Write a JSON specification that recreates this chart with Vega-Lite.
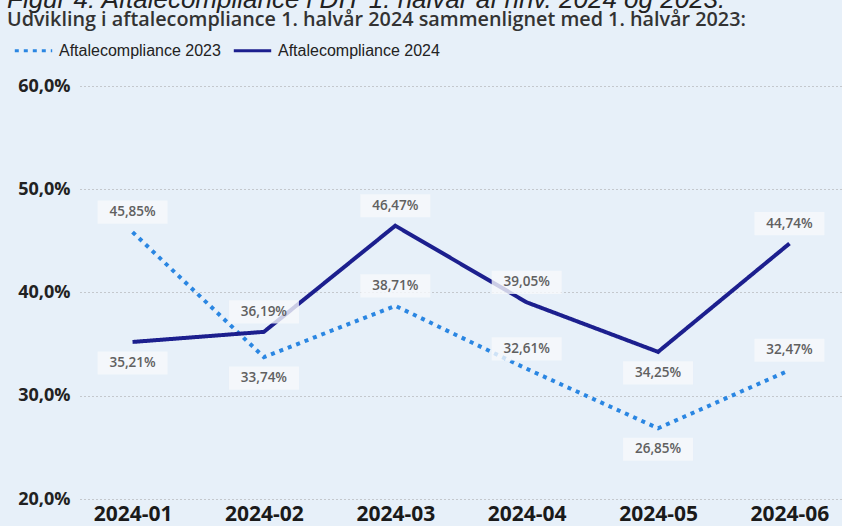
{
  "$schema": "https://vega.github.io/schema/vega-lite/v6.json",
  "autosize": {"type": "none"},
  "width": 762,
  "height": 413,
  "padding": {"left": 80, "top": 86, "right": 0, "bottom": 27},
  "background": "#e7f0f9",
  "title": {
    "text": "Figur 4: Aftalecompliance i DIT 1. halvår af hhv. 2024 og 2023.",
    "subtitle": "Udvikling i aftalecompliance 1. halvår 2024 sammenlignet med 1. halvår 2023:",
    "anchor": "start",
    "frame": "group",
    "orient": "top",
    "dx": -73,
    "offset": 0,
    "font": "Liberation Sans",
    "fontStyle": "italic",
    "fontWeight": "normal",
    "fontSize": 26,
    "color": "#222222",
    "subtitleFont": "Open Sans",
    "subtitleFontWeight": 600,
    "subtitleFontSize": 19.8,
    "subtitleColor": "#333333",
    "subtitlePadding": -3
  },
  "data": {
    "values": [
      {"month": "2024-01", "serie": "Aftalecompliance 2023", "value": 0.4585},
      {"month": "2024-02", "serie": "Aftalecompliance 2023", "value": 0.3374},
      {"month": "2024-03", "serie": "Aftalecompliance 2023", "value": 0.3871},
      {"month": "2024-04", "serie": "Aftalecompliance 2023", "value": 0.3261},
      {"month": "2024-05", "serie": "Aftalecompliance 2023", "value": 0.2685},
      {"month": "2024-06", "serie": "Aftalecompliance 2023", "value": 0.3247},
      {"month": "2024-01", "serie": "Aftalecompliance 2024", "value": 0.3521},
      {"month": "2024-02", "serie": "Aftalecompliance 2024", "value": 0.3619},
      {"month": "2024-03", "serie": "Aftalecompliance 2024", "value": 0.4647},
      {"month": "2024-04", "serie": "Aftalecompliance 2024", "value": 0.3905},
      {"month": "2024-05", "serie": "Aftalecompliance 2024", "value": 0.3425},
      {"month": "2024-06", "serie": "Aftalecompliance 2024", "value": 0.4474}
    ]
  },
  "encoding": {
    "x": {
      "field": "month",
      "type": "ordinal",
      "scale": {"type": "point", "padding": 0.4},
      "axis": {
        "title": null,
        "labelAngle": 0,
        "labelFont": "Open Sans",
        "labelFontWeight": "bold",
        "labelFontSize": 21,
        "labelColor": "#1a1a1a",
        "labelPadding": 4,
        "domain": false,
        "ticks": false,
        "grid": false
      }
    },
    "y": {
      "field": "value",
      "type": "quantitative",
      "scale": {"domain": [0.2, 0.6], "nice": false, "zero": false},
      "axis": {
        "title": null,
        "values": [0.2, 0.3, 0.4, 0.5, 0.6],
        "format": ".1%",
        "labelFont": "Open Sans",
        "labelFontWeight": "bold",
        "labelFontSize": 18,
        "labelColor": "#222222",
        "labelPadding": 10,
        "domain": false,
        "ticks": false,
        "grid": true,
        "gridColor": "#a0a0a0",
        "gridDash": [1, 3],
        "gridWidth": 1
      }
    }
  },
  "layer": [
    {
      "mark": {"type": "line", "strokeWidth": 4, "strokeCap": "butt"},
      "encoding": {
        "color": {
          "field": "serie",
          "type": "nominal",
          "scale": {
            "domain": ["Aftalecompliance 2023", "Aftalecompliance 2024"],
            "range": ["#2a86e2", "#1c1f8e"]
          },
          "legend": {
            "orient": "none",
            "legendX": -67,
            "legendY": -56,
            "direction": "horizontal",
            "title": null,
            "symbolType": "stroke",
            "symbolSize": 1400,
            "symbolStrokeWidth": 3,
            "labelFont": "Liberation Sans",
            "labelFontSize": 16,
            "labelColor": "#222222",
            "labelOffset": 5,
            "labelLimit": 400,
            "columnPadding": 6
          }
        },
        "strokeDash": {
          "field": "serie",
          "type": "nominal",
          "scale": {
            "domain": ["Aftalecompliance 2023", "Aftalecompliance 2024"],
            "range": [[4, 5], [1, 0]]
          },
          "legend": {
            "orient": "none",
            "legendX": -67,
            "legendY": -56,
            "direction": "horizontal",
            "title": null,
            "symbolType": "stroke",
            "symbolSize": 1400,
            "symbolStrokeWidth": 3,
            "labelFont": "Liberation Sans",
            "labelFontSize": 16,
            "labelColor": "#222222",
            "labelOffset": 5,
            "labelLimit": 400,
            "columnPadding": 6
          }
        }
      }
    },
    {
      "transform": [{"filter": "!((datum.serie == 'Aftalecompliance 2024' && (datum.month == '2024-01' || datum.month == '2024-05')) || (datum.serie == 'Aftalecompliance 2023' && (datum.month == '2024-02' || datum.month == '2024-05')))"}],
      "mark": {"type": "point", "shape": "M-1,-0.9H1V-0.24H-1Z", "size": 4900, "filled": true, "fill": "#f7f9fb", "opacity": 0.8, "strokeWidth": 0}
    },
    {
      "transform": [{"filter": "(datum.serie == 'Aftalecompliance 2024' && (datum.month == '2024-01' || datum.month == '2024-05')) || (datum.serie == 'Aftalecompliance 2023' && (datum.month == '2024-02' || datum.month == '2024-05'))"}],
      "mark": {"type": "point", "shape": "M-1,0.27H1V0.93H-1Z", "size": 4900, "filled": true, "fill": "#f7f9fb", "opacity": 0.8, "strokeWidth": 0}
    },
    {
      "transform": [{"filter": "!((datum.serie == 'Aftalecompliance 2024' && (datum.month == '2024-01' || datum.month == '2024-05')) || (datum.serie == 'Aftalecompliance 2023' && (datum.month == '2024-02' || datum.month == '2024-05')))"}],
      "mark": {"type": "text", "dy": -20, "baseline": "middle", "font": "Open Sans", "fontWeight": 600, "fontSize": 13.5, "color": "#606060"},
      "encoding": {"text": {"field": "value", "type": "quantitative", "format": ".2%"}}
    },
    {
      "transform": [{"filter": "(datum.serie == 'Aftalecompliance 2024' && (datum.month == '2024-01' || datum.month == '2024-05')) || (datum.serie == 'Aftalecompliance 2023' && (datum.month == '2024-02' || datum.month == '2024-05'))"}],
      "mark": {"type": "text", "dy": 21, "baseline": "middle", "font": "Open Sans", "fontWeight": 600, "fontSize": 13.5, "color": "#606060"},
      "encoding": {"text": {"field": "value", "type": "quantitative", "format": ".2%"}}
    }
  ],
  "config": {
    "locale": {"number": {"decimal": ",", "thousands": ".", "grouping": [3], "currency": ["", " kr."]}},
    "view": {"stroke": null}
  }
}
